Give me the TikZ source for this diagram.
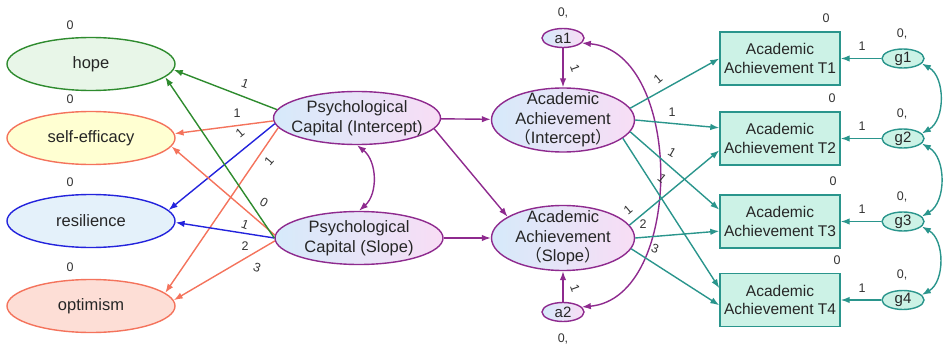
\documentclass[tikz,border=0pt]{standalone}
\usepackage{fontspec}
\setmainfont{Liberation Sans}
\newfontfamily\cjk{Noto Sans CJK SC}
\usetikzlibrary{arrows.meta,shapes.geometric}
\definecolor{hopegreen}{HTML}{2E8B2E}
\definecolor{hopefill}{HTML}{E8F6E8}
\definecolor{salmon}{HTML}{F4735C}
\definecolor{effyellow}{HTML}{FFFFD2}
\definecolor{resblue}{HTML}{2323DC}
\definecolor{resfill}{HTML}{E4F1FA}
\definecolor{optfill}{HTML}{FDDED6}
\definecolor{capblue}{HTML}{D6EAFA}
\definecolor{cappink}{HTML}{F8DDF5}
\definecolor{pathpurple}{HTML}{8E2A8E}
\definecolor{obsteal}{HTML}{2A958C}
\definecolor{obsfill}{HTML}{CCF2E6}
\definecolor{inkgray}{HTML}{262626}
\definecolor{numgray}{HTML}{333333}
\tikzset{
  factor/.style={ellipse,line width=1.4pt,minimum width=168pt,minimum height=53pt,
    inner sep=-20pt,text=inkgray,font=\fontsize{16.5}{19.5}\selectfont},
  growth/.style={ellipse,draw=pathpurple,line width=1.4pt,left color=capblue,right color=cappink,
    inner sep=-20pt,align=center,text=inkgray,font=\fontsize{16.5}{19.5}\selectfont},
  wave/.style={rectangle,draw=obsteal,fill=obsfill,line width=1.4pt,minimum width=120pt,
    minimum height=53pt,inner sep=0pt,align=center,text=inkgray,font=\fontsize{15.5}{18.5}\selectfont},
  resid/.style={ellipse,line width=1.4pt,minimum width=42pt,minimum height=19pt,
    inner sep=-20pt,text=inkgray,font=\fontsize{15}{17}\selectfont},
  num/.style={inner sep=0pt,text=numgray,font=\fontsize{12.5}{14}\selectfont},
  load/.style={line width=1.4pt,-{Latex[length=9pt,width=6.5pt]}},
  cov/.style={line width=1.4pt,{Latex[length=9pt,width=6.5pt]}-{Latex[length=9pt,width=6.5pt]}}
}

\begin{document}
\begin{tikzpicture}[x=1pt,y=-1pt]
  \useasboundingbox (0,0) rectangle (952,353);
  % indicators
  \foreach \n/\t/\y/\f/\d in {hope/hope/64/hopefill/hopegreen,eff/self-efficacy/138/effyellow/salmon,
      res/resilience/221/resfill/resblue,opt/optimism/306/optfill/salmon}{
    \node[factor,fill=\f,draw=\d] (\n) at (91,\y) {\t};
    \node[num] (m\n) at (70,\y-39) {0};
  }
  % growth factors
  \node[growth,minimum width=167pt,minimum height=53pt] (pci) at (357,118) {Psychological\\Capital (Intercept)};
  \node[growth,minimum width=168pt,minimum height=53pt] (pcs) at (359,238) {Psychological\\Capital (Slope)};
  \node[growth,minimum width=143pt,minimum height=64pt] (aai) at (563,120) {Academic\\Achievement\\{\cjk （}Intercept{\cjk ）}};
  \node[growth,minimum width=143pt,minimum height=65pt] (aas) at (563,238) {Academic\\Achievement\\{\cjk （}Slope{\cjk ）}};
  \node[resid,draw=pathpurple,left color=capblue,right color=cappink] (a1) at (563,38) {a1};
  \node[num] (ma1) at (563,13) {0,};
  \node[resid,draw=pathpurple,left color=capblue,right color=cappink] (a2) at (563,312) {a2};
  \node[num] (ma2) at (563,339) {0,};
  % observed waves
  \foreach \i/\y/\zx in {1/58.5/826,2/138.5/832,3/221.5/833,4/300/837}{
    \node[wave] (t\i) at (780,\y) {Academic\\Achievement T\i};
    \node[num] (mt\i) at (\zx,\y-40) {0};
    \node[resid,draw=obsteal,fill=obsfill] (g\i) at (903,\y) {g\i};
    \node[num] (mg\i) at (902,\y-25) {0,};
    \draw[load,obsteal] (g\i) -- (t\i);
    \node[num] (lg\i) at (862,\y-12) {1};
  }
  \foreach \i/\j in {1/2,2/3,3/4}
    \draw[cov,obsteal] (g\i.-15) to[bend left=60] (g\j.15);

  % loadings on the left
  \draw[load,hopegreen] (pci.174) -- (hope.-4);
  \draw[load,salmon] (pci.182) -- (eff.3);
  \draw[load,resblue] (pci.184) -- (res.8);
  \draw[load,salmon] (pci.187) -- (opt.10);
  \draw[load,salmon] (pcs.178) -- (eff.-6);
  \draw[load,resblue] (pcs.180) -- (res.-1);
  \draw[load,salmon] (pcs.182) -- (opt.4);
  \draw[load,hopegreen] (pcs.180) -- (hope.-10);
  \node[num,rotate=-20] (l1) at (245,84) {1};
  \node[num] (l2) at (237,113) {1};
  \node[num,rotate=40] (l3) at (240,133) {1};
  \node[num,rotate=50] (l4) at (269,161) {1};
  \node[num,rotate=-30] (l5) at (264,203) {0};
  \node[num,rotate=-20] (l6) at (245,225) {1};
  \node[num] (l7) at (245,246) {2};
  \node[num,rotate=-20] (l8) at (257,268) {3};
  \draw[cov,pathpurple] (pci.south) to[bend left=50] (pcs.north);

  % structural paths
  \draw[load,pathpurple] (pci) -- (aai);
  \draw[load,pathpurple] (pcs) -- (aas);
  \draw[load,pathpurple] (pci.-8) -- (aas.159);
  \draw[load,pathpurple] (a1) -- (aai);
  \draw[load,pathpurple] (a2) -- (aas);
  \node[num,rotate=-70] (la1) at (575,68) {1};
  \node[num,rotate=-70] (la2) at (575,288) {1};
  \draw[cov,pathpurple] (a1.-15) to[bend left=85] (a2.15);

  % loadings on the right
  \draw[load,obsteal] (aai.10) -- (t1.west);
  \draw[load,obsteal] (aai.0) -- (t2.170);
  \draw[load,obsteal] (aai.-10) -- (t3.169);
  \draw[load,obsteal] (aai.-17) -- (t4.169);
  \draw[load,obsteal] (aas.11) -- (t2.191);
  \draw[load,obsteal] (aas.0) -- (t3.189);
  \draw[load,obsteal] (aas.-9) -- (t4.185);
  \node[num,rotate=40] (r1) at (658,79) {1};
  \node[num] (r2) at (672,112) {1};
  \node[num,rotate=-30] (r3) at (672,153) {1};
  \node[num,rotate=-40] (r4) at (662,178) {1};
  \node[num,rotate=40] (r5) at (628,210) {1};
  \node[num] (r6) at (643,224) {2};
  \node[num,rotate=-20] (r7) at (655,249) {3};
\end{tikzpicture}
\end{document}
